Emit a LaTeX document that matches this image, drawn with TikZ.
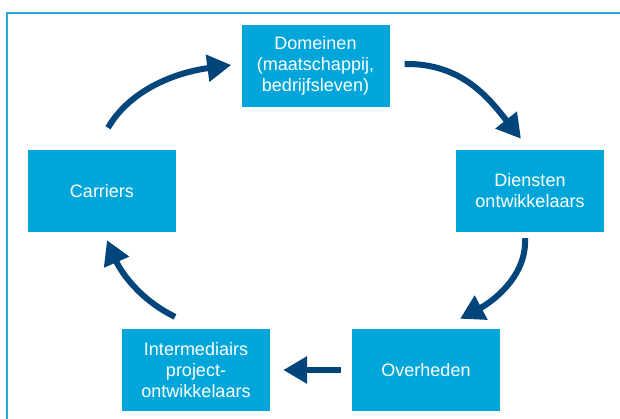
\documentclass[tikz,border=0pt]{standalone}
\usepackage{fontspec}
\setmainfont{Liberation Sans}
\usetikzlibrary{arrows.meta}
\definecolor{boxcyan}{HTML}{00A6DA}
\definecolor{arrowblue}{HTML}{02457A}
\definecolor{framecyan}{HTML}{2AA7DF}
\begin{document}
\begin{tikzpicture}[x=1pt,y=-1pt,
  box/.style={fill=boxcyan, draw=none, minimum width=148pt, minimum height=82pt,
    inner sep=0pt, align=center, text=white, font=\fontsize{18}{21}\selectfont},
  arr/.style={draw=arrowblue, line width=6pt, -{Triangle[width=26pt,length=24pt]}}]
\useasboundingbox (0,0) rectangle (620,419);
\fill[white] (0,0) rectangle (620,419);
\draw[framecyan, line width=2pt] (7,419) -- (7,13) -- (620,13);

\node[box] (dom)   at (315.5,66) {Domeinen\\(maatschappij,\\bedrijfsleven)};
\node[box] (car)   at (102,191)  {Carriers};
\node[box] (dien)  at (530,191)  {Diensten\\ontwikkelaars};
\node[box] (inter) at (196,370)  {Intermediairs\\project-\\ontwikkelaars};
\node[box] (over)  at (426,370)  {Overheden};

\draw[arr] ([xshift=6pt,yshift=22pt]car.north) .. controls +(22,-38) and +(-56,7.5) .. ([xshift=-10pt,yshift=1pt]dom.west);
\draw[arr] ([xshift=15pt,yshift=2pt]dom.east) .. controls +(58,-1) and +(-31,-39) .. ([xshift=-9pt,yshift=11pt]dien.north);
\draw[arr] ([xshift=-5pt,yshift=-6pt]dien.south) .. controls +(2,37) and +(34,-18) .. ([xshift=34pt,yshift=10pt]over.north);
\draw[arr] ([xshift=-11pt]over.west) -- ([xshift=13pt]inter.east);
\draw[arr] ([xshift=-21pt,yshift=12pt]inter.north) .. controls +(-35,-17) and +(14,32) .. ([xshift=5pt,yshift=-8pt]car.south);
\end{tikzpicture}
\end{document}
